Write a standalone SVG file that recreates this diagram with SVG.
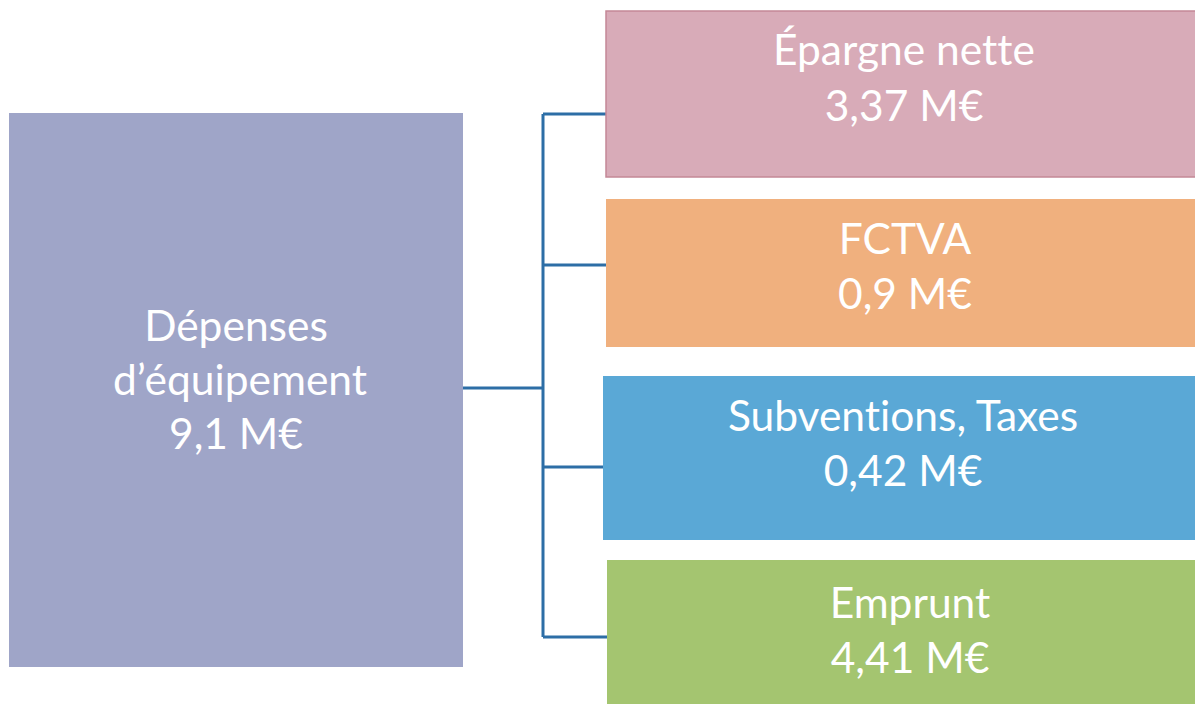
<svg xmlns="http://www.w3.org/2000/svg" width="1195" height="704" viewBox="0 0 1195 704">
<style>
.t{font-family:Lato,"Open Sans","Liberation Sans",sans-serif;font-size:42.5px;fill:#ffffff;text-anchor:middle;font-variant-ligatures:none}
.c{stroke:#2d6ea6;stroke-width:3;fill:none}
</style>
<rect width="1195" height="704" fill="#ffffff"/>
<g id="depenses">
<rect x="9" y="113" width="454" height="554" fill="#9fa5c8"/>
<text class="t" x="236" y="341">Dépenses</text>
<text class="t" x="240" y="395">d’équipement</text>
<text class="t" x="236" y="449">9,1 M€</text>
</g>
<g id="connectors">
<path class="c" d="M463 388 H543 M543 114 V637 M543 114 H606 M543 265 H606 M543 467 H604 M543 637 H607"/>
</g>
<g id="epargne">
<rect x="606" y="11" width="590" height="166" fill="#d8abb8" stroke="#c48896" stroke-width="1.5"/>
<text class="t" x="904" y="65">Épargne nette</text>
<text class="t" x="904" y="121">3,37 M€</text>
</g>
<g id="fctva">
<rect x="606" y="199" width="590" height="148" fill="#f0b07e"/>
<text class="t" x="905" y="254">FCTVA</text>
<text class="t" x="905" y="309">0,9 M€</text>
</g>
<g id="subventions">
<rect x="603" y="376" width="593" height="164" fill="#5aa8d6"/>
<text class="t" x="903" y="431">Subventions, Taxes</text>
<text class="t" x="903" y="486">0,42 M€</text>
</g>
<g id="emprunt">
<rect x="607" y="560" width="589" height="145" fill="#a4c570"/>
<text class="t" x="910" y="618">Emprunt</text>
<text class="t" x="910" y="673">4,41 M€</text>
</g>
</svg>
